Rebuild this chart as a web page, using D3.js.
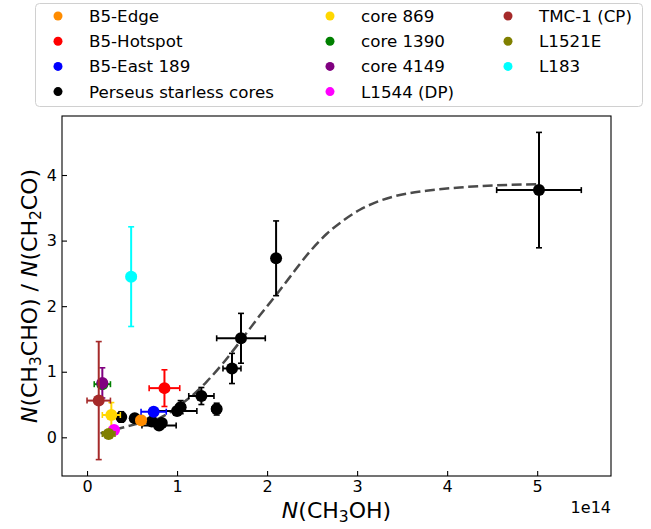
<!DOCTYPE html>
<html>
<head>
<meta charset="utf-8">
<script src="https://cdn.jsdelivr.net/npm/d3@7"></script>
<style>
	body { margin: 0; background: #fff; }
	svg { display: block; font-family: "DejaVu Sans", sans-serif; }
</style>
</head>
<body>
<div id="demo"></div>
<script>

// data: [x (1e14), y, xerr, yerr]
var b5Edge     = [[0.60, 0.26, 0.05, 0.05]];
var b5Hotspot  = [[0.86, 0.75, 0.17, 0.28]];
var b5East189  = [[0.74, 0.39, 0.14, 0.04]];
var perseus    = [
	[0.38, 0.31, 0.04, 0.08],
	[0.53, 0.29, 0.04, 0.05],
	[0.72, 0.24, 0.05, 0.05],
	[0.80, 0.18, 0.19, 0.05],
	[0.83, 0.22, 0.05, 0.05],
	[1.00, 0.40, 0.22, 0.06],
	[1.04, 0.46, 0.05, 0.10],
	[1.27, 0.63, 0.14, 0.13],
	[1.44, 0.43, 0.05, 0.09],
	[1.61, 1.05, 0.10, 0.23],
	[1.71, 1.51, 0.27, 0.38],
	[2.10, 2.73, 0.03, 0.57],
	[5.02, 3.77, 0.47, 0.88]
];
var core869    = [[0.27, 0.34, 0.10, 0.19]];
var core1390   = [[0.17, 0.81, 0.09, 0.04]];
var core4149   = [[0.17, 0.83, 0.03, 0.23]];
var l1544      = [[0.30, 0.11, 0.03, 0.03]];
var tmc1       = [[0.13, 0.56, 0.13, 0.90]];
var l1521e     = [[0.24, 0.05, 0.07, 0.03]];
var l183       = [[0.49, 2.45, 0.05, 0.76]];

var groupNames  = ['B5-Edge', 'B5-Hotspot', 'B5-East 189', 'Perseus starless cores',
	'core 869', 'core 1390', 'core 4149', 'L1544 (DP)', 'TMC-1 (CP)', 'L1521E', 'L183'];
var groupData   = [b5Edge, b5Hotspot, b5East189, perseus,
	core869, core1390, core4149, l1544, tmc1, l1521e, l183];
var groupColors = ['#ff8c00', '#ff0000', '#0000ff', '#000000',
	'#ffd700', '#008000', '#800080', '#ff00ff', '#a52a2a', '#808000', '#00ffff'];

// dashed fit curve
var fitX = [0.15, 0.40, 0.60, 0.80, 0.92, 1.03, 1.18, 1.33, 1.51, 1.70, 1.92, 2.10, 2.24,
	2.48, 2.66, 2.85, 3.03, 3.22, 3.40, 3.77, 4.14, 4.51, 5.01];
var fitY = [0.06, 0.15, 0.22, 0.29, 0.38, 0.49, 0.65, 0.85, 1.13, 1.46, 1.86, 2.17, 2.42,
	2.84, 3.10, 3.31, 3.47, 3.59, 3.67, 3.76, 3.81, 3.84, 3.86];

var xTicks = [0, 1, 2, 3, 4, 5];
var yTicks = [0, 1, 2, 3, 4];

// SVG
var svg = d3.select("#demo").append("svg")
	.attr("width", 651)
	.attr("height", 529);

var plotL = 62, plotR = 611, plotT = 116, plotB = 476;

var x = d3.scaleLinear().domain([-0.278, 5.82]).range([plotL, plotR]);
var y = d3.scaleLinear().domain([-0.59, 4.90]).range([plotB, plotT]);

// axes (inward ticks)
var xAxis = svg.append("g")
	.attr("transform", "translate(0," + plotB + ")")
	.call(d3.axisBottom(x).tickValues(xTicks).tickSize(-5).tickPadding(5).tickFormat(d3.format("d")));
var yAxis = svg.append("g")
	.attr("transform", "translate(" + plotL + ",0)")
	.call(d3.axisLeft(y).tickValues(yTicks).tickSize(-5).tickPadding(5).tickFormat(d3.format("d")));

[xAxis, yAxis].forEach(function(a) {
	a.select(".domain").remove();
	a.selectAll(".tick line").attr("stroke", "#000").attr("stroke-width", 1.1);
	a.selectAll(".tick text")
		.attr("fill", "#000")
		.style("font-family", "DejaVu Sans")
		.style("font-size", "16px");
});

// fit curve
var line = d3.line()
	.curve(d3.curveMonotoneX)
	.x(function(d) { return x(d[0]); })
	.y(function(d) { return y(d[1]); });

svg.append("path")
	.attr("d", line(fitX.map(function(v, i) { return [v, fitY[i]]; })))
	.attr("fill", "none")
	.attr("stroke", "#4a4a4a")
	.attr("stroke-width", 2.5)
	.attr("stroke-dasharray", "10,4.5");

// points with error bars, Perseus first so colored sources sit above
var order = [3, 0, 1, 2, 4, 5, 6, 7, 8, 9, 10];
var cap = 3;

order.forEach(function(gi) {
	var col = groupColors[gi];
	var g = svg.append("g");
	var pts = g.selectAll("g.pt")
		.data(groupData[gi])
		.enter()
		.append("g");

	// horizontal bars
	pts.append("line")
		.attr("x1", function(d) { return x(d[0] - d[2]); })
		.attr("x2", function(d) { return x(d[0] + d[2]); })
		.attr("y1", function(d) { return y(d[1]); })
		.attr("y2", function(d) { return y(d[1]); })
		.attr("stroke", col).attr("stroke-width", 2);
	// vertical bars
	pts.append("line")
		.attr("x1", function(d) { return x(d[0]); })
		.attr("x2", function(d) { return x(d[0]); })
		.attr("y1", function(d) { return y(d[1] - d[3]); })
		.attr("y2", function(d) { return y(d[1] + d[3]); })
		.attr("stroke", col).attr("stroke-width", 2);
	// caps
	[-1, 1].forEach(function(s) {
		pts.append("line")
			.attr("x1", function(d) { return x(d[0] + s * d[2]); })
			.attr("x2", function(d) { return x(d[0] + s * d[2]); })
			.attr("y1", function(d) { return y(d[1]) - cap; })
			.attr("y2", function(d) { return y(d[1]) + cap; })
			.attr("stroke", col).attr("stroke-width", 1.6);
		pts.append("line")
			.attr("x1", function(d) { return x(d[0]) - cap; })
			.attr("x2", function(d) { return x(d[0]) + cap; })
			.attr("y1", function(d) { return y(d[1] + s * d[3]); })
			.attr("y2", function(d) { return y(d[1] + s * d[3]); })
			.attr("stroke", col).attr("stroke-width", 1.6);
	});
	pts.append("circle")
		.attr("cx", function(d) { return x(d[0]); })
		.attr("cy", function(d) { return y(d[1]); })
		.attr("r", 6)
		.attr("fill", col);
});

// frame
svg.append("rect")
	.attr("x", plotL).attr("y", plotT)
	.attr("width", plotR - plotL).attr("height", plotB - plotT)
	.attr("fill", "none")
	.attr("stroke", "#000")
	.attr("stroke-width", 1.1);

// axis labels
var xl = svg.append("text")
	.attr("x", (plotL + plotR) / 2)
	.attr("y", 518)
	.attr("text-anchor", "middle")
	.style("font-size", "22px");
xl.append("tspan").style("font-style", "italic").text("N");
xl.append("tspan").text("(CH");
xl.append("tspan").attr("baseline-shift", "-22%").style("font-size", "15.5px").text("3");
xl.append("tspan").text("OH)");

var yl = svg.append("text")
	.attr("transform", "translate(37," + ((plotT + plotB) / 2) + ") rotate(-90)")
	.attr("text-anchor", "middle")
	.style("font-size", "22px");
yl.append("tspan").style("font-style", "italic").text("N");
yl.append("tspan").text("(CH");
yl.append("tspan").attr("baseline-shift", "-22%").style("font-size", "15.5px").text("3");
yl.append("tspan").text("CHO) / ");
yl.append("tspan").style("font-style", "italic").text("N");
yl.append("tspan").text("(CH");
yl.append("tspan").attr("baseline-shift", "-22%").style("font-size", "15.5px").text("2");
yl.append("tspan").text("CO)");

// offset text
svg.append("text")
	.attr("x", plotR)
	.attr("y", 513)
	.attr("text-anchor", "end")
	.style("font-size", "16px")
	.text("1e14");

// legend
svg.append("rect")
	.attr("x", 35.5).attr("y", 3.5)
	.attr("width", 607).attr("height", 103)
	.attr("rx", 4)
	.attr("fill", "#fff")
	.attr("stroke", "#d0d0d0")
	.attr("stroke-width", 1);

var colMarkerX = [58, 330, 508];
var colTextX = [89, 361, 539];

var legend = svg.selectAll(".legend")
	.data(groupNames)
	.enter()
	.append("g")
	.attr("transform", function(d, i) {
		var r = i % 4;
		return "translate(0," + (16 + r * 25.2) + ")";
	});

legend.append("circle")
	.attr("cx", function(d, i) { return colMarkerX[Math.floor(i / 4)]; })
	.attr("cy", 0)
	.attr("r", 4.5)
	.attr("fill", function(d, i) { return groupColors[i]; });

legend.append("text")
	.attr("x", function(d, i) { return colTextX[Math.floor(i / 4)]; })
	.attr("y", 0)
	.attr("dy", "0.36em")
	.style("font-size", "16.7px")
	.text(function(d) { return d; });

</script>
</body>
</html>
